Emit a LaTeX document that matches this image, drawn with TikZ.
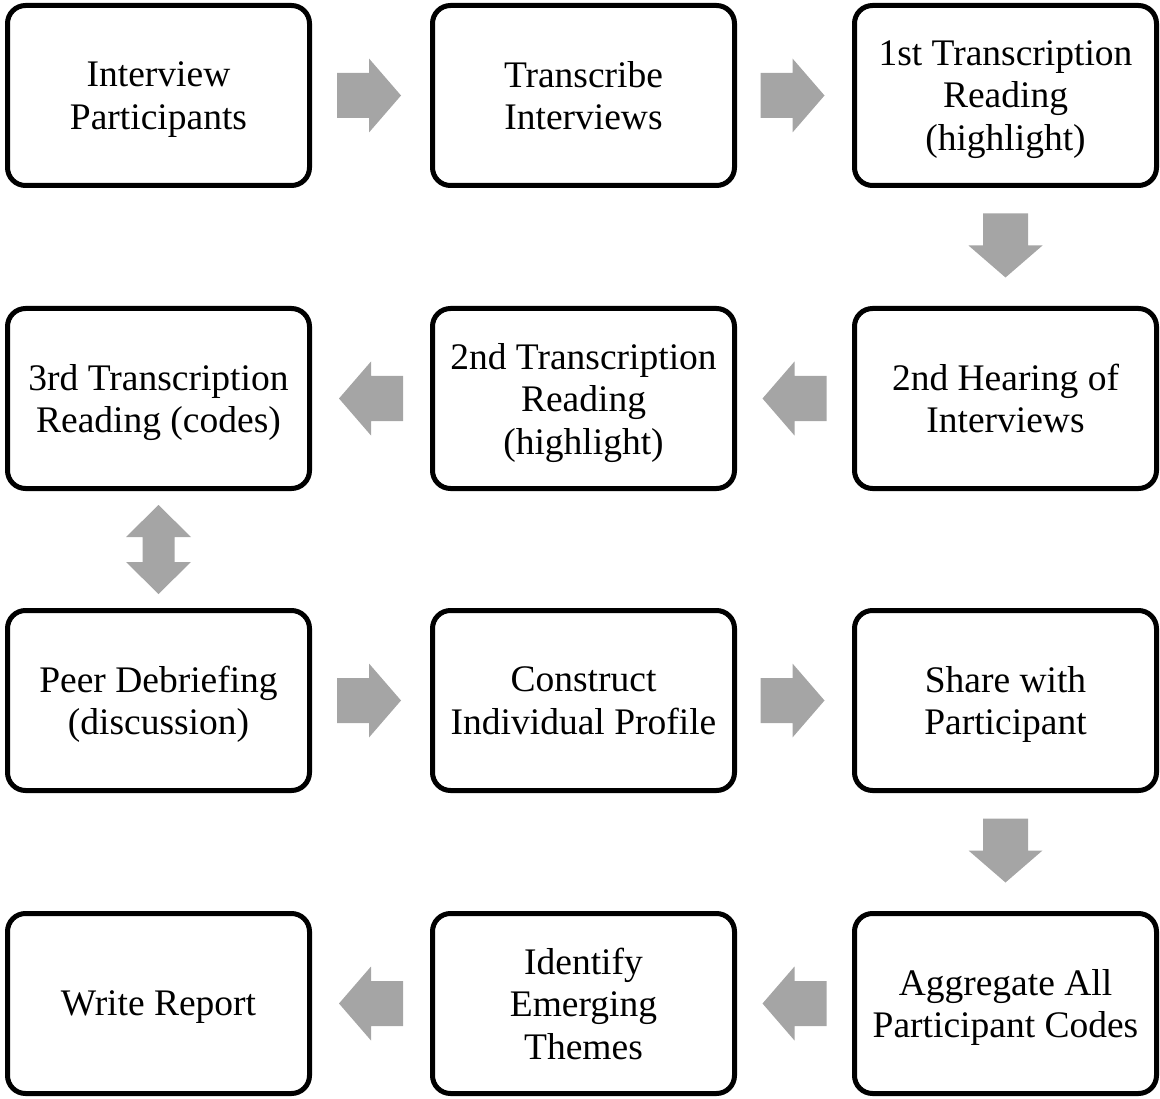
\documentclass[tikz,border=0pt]{standalone}
\usepackage{fontspec}
\setmainfont{Liberation Serif}
\usetikzlibrary{calc}
\definecolor{arrowgray}{HTML}{A5A5A5}
\tikzset{
  stepbox/.style={draw=black, line width=5pt, rounded corners=18pt, fill=white,
    minimum width=302pt, minimum height=180pt, inner sep=0pt, align=center,
    text depth=0pt, font=\fontsize{37.5}{42.5}\selectfont},
  pics/blockright/.style={code={
    \fill[arrowgray] (-32,22.5) -- (0,22.5) -- (0,37) -- (32,0) -- (0,-37)
      -- (0,-22.5) -- (-32,-22.5) -- cycle;}},
  pics/blockboth/.style={code={
    \fill[arrowgray] (0,-44.5) -- (32.5,-12.5) -- (16,-12.5) -- (16,12.5)
      -- (32.5,12.5) -- (0,44.5) -- (-32.5,12.5) -- (-16,12.5) -- (-16,-12.5)
      -- (-32.5,-12.5) -- cycle;}},
}
\begin{document}
\begin{tikzpicture}[x=1pt,y=-1pt]
\useasboundingbox (0,0) rectangle (1160,1099);
% process steps
\node[stepbox] (b1)  at (158.5,95.5)   {Interview\\Participants};
\node[stepbox] (b2)  at (583.5,95.5)   {Transcribe\\Interviews};
\node[stepbox] (b3)  at (1005.5,95.5)  {1st Transcription\\Reading\\(highlight)};
\node[stepbox] (b4)  at (1005.5,398.5) {2nd Hearing of\\Interviews};
\node[stepbox] (b5)  at (583.5,398.5)  {2nd Transcription\\Reading\\(highlight)};
\node[stepbox] (b6)  at (158.5,398.5)  {3rd Transcription\\Reading (codes)};
\node[stepbox] (b7)  at (158.5,700.5)  {Peer Debriefing\\(discussion)};
\node[stepbox] (b8)  at (583.5,700.5)  {Construct\\Individual Profile};
\node[stepbox] (b9)  at (1005.5,700.5) {Share with\\Participant};
\node[stepbox] (b10) at (1005.5,1003.5){Aggregate All\\Participant Codes};
\node[stepbox] (b11) at (583.5,1003.5) {Identify\\Emerging\\Themes};
\node[stepbox] (b12) at (158.5,1003.5) {Write Report};
% block arrows between steps
\coordinate (m12)  at ($(b1.east)!0.5!(b2.west)$);
\coordinate (m23)  at ($(b2.east)!0.5!(b3.west)$);
\coordinate (m34)  at ($(b3.south)!0.5!(b4.north)$);
\coordinate (m45)  at ($(b4.west)!0.5!(b5.east)$);
\coordinate (m56)  at ($(b5.west)!0.5!(b6.east)$);
\coordinate (m67)  at ($(b6.south)!0.5!(b7.north)$);
\coordinate (m78)  at ($(b7.east)!0.5!(b8.west)$);
\coordinate (m89)  at ($(b8.east)!0.5!(b9.west)$);
\coordinate (m910) at ($(b9.south)!0.5!(b10.north)$);
\coordinate (m1011) at ($(b10.west)!0.5!(b11.east)$);
\coordinate (m1112) at ($(b11.west)!0.5!(b12.east)$);
\pic at ([xshift=-2pt]m12) {blockright};
\pic at ([xshift=-2pt]m23) {blockright};
\pic[rotate=-90] at ([yshift=1.5pt]m34) {blockright};
\pic[rotate=180] at (m45) {blockright};
\pic[rotate=180] at (m56) {blockright};
\pic at (m67) {blockboth};
\pic at ([xshift=-2pt]m78) {blockright};
\pic at ([xshift=-2pt]m89) {blockright};
\pic[rotate=-90] at ([yshift=1.5pt]m910) {blockright};
\pic[rotate=180] at (m1011) {blockright};
\pic[rotate=180] at (m1112) {blockright};
\end{tikzpicture}
\end{document}
